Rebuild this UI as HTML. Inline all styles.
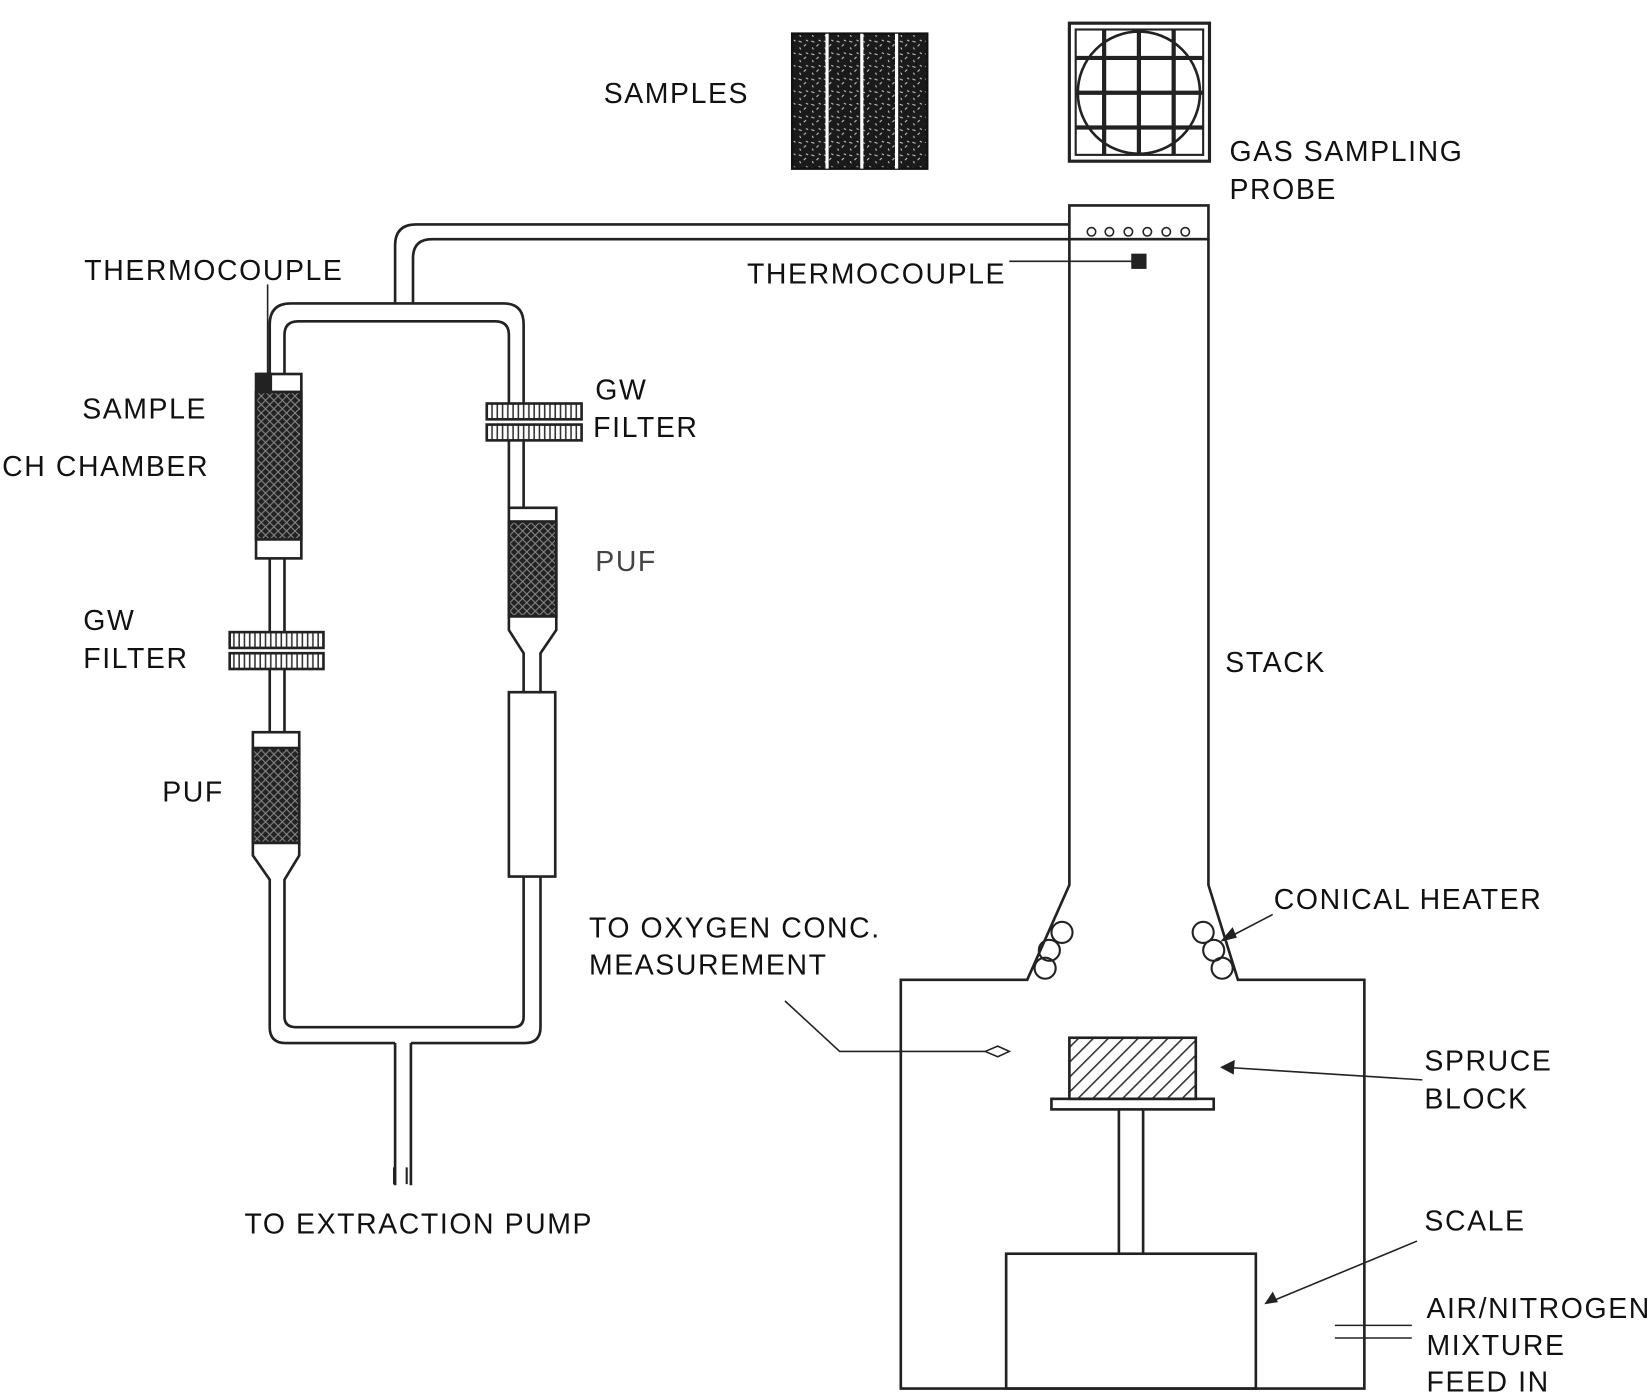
<!DOCTYPE html>
<html><head><meta charset="utf-8"><style>
html,body{margin:0;padding:0;background:#fff;}
svg{display:block;}
text{font-family:"Liberation Sans",sans-serif;font-size:27px;fill:#111;letter-spacing:1.5px;}
</style></head><body>
<svg width="1652" height="1397" viewBox="0 0 1568 1326" xmlns="http://www.w3.org/2000/svg">
<defs>
<pattern id="cross" width="8" height="8" patternUnits="userSpaceOnUse">
<rect width="8" height="8" fill="#222"/>
<path d="M0 0L8 8M8 0L0 8" stroke="#888" stroke-width="1"/>
</pattern>
<pattern id="hatch" width="10" height="10" patternUnits="userSpaceOnUse" patternTransform="rotate(45)">
<rect width="10" height="10" fill="#fff"/>
<line x1="0" y1="0" x2="0" y2="10" stroke="#333" stroke-width="3"/>
</pattern>
<pattern id="spk" width="12" height="12" patternUnits="userSpaceOnUse">
<rect width="12" height="12" fill="#1a1a1a"/>
<path d="M2 3l3 1M7 8l2-2M3 9l1 2M9 2l2 1" stroke="#ccc" stroke-width="1"/>
</pattern>
<pattern id="ribs" width="5" height="10" patternUnits="userSpaceOnUse">
<rect width="5" height="10" fill="#fff"/>
<line x1="2" y1="0" x2="2" y2="10" stroke="#333" stroke-width="1.5"/>
</pattern>
</defs>
<g fill="none" stroke="#222" stroke-width="2.5">
<rect x="752" y="32" width="128" height="128" fill="url(#spk)" stroke="#111"/>
<line x1="785" y1="32" x2="785" y2="160" stroke="#fff" stroke-width="3"/>
<line x1="818" y1="32" x2="818" y2="160" stroke="#fff" stroke-width="3"/>
<line x1="851" y1="32" x2="851" y2="160" stroke="#fff" stroke-width="3"/>
<rect x="1015" y="22" width="133" height="131" stroke-width="3"/>
<rect x="1021" y="28" width="121" height="119" stroke-width="2"/>
<circle cx="1081" cy="88" r="58"/>
<path d="M1048 28V147M1081 28V147M1114 28V147M1021 55H1142M1021 88H1142M1021 121H1142" stroke-width="4"/>
<path d="M1015 213H395Q375 213 375 233V288"/>
<path d="M1015 227H410Q392 227 392 245V288"/>
<rect x="1015" y="195" width="132" height="32"/>
<g stroke-width="1.5"><circle cx="1036" cy="220" r="4"/><circle cx="1053" cy="220" r="4"/><circle cx="1071" cy="220" r="4"/><circle cx="1089" cy="220" r="4"/><circle cx="1107" cy="220" r="4"/><circle cx="1125" cy="220" r="4"/></g>
<rect x="1075" y="242" width="12" height="12" fill="#222"/>
<line x1="958" y1="248" x2="1075" y2="248" stroke-width="1.5"/>
<path d="M1015 227V840L975 930H855V1318H1295V930H1175L1147 840V227"/>
<g stroke-width="2"><circle cx="1008" cy="885" r="10"/><circle cx="996" cy="902" r="10"/><circle cx="992" cy="919" r="10"/><circle cx="1142" cy="885" r="10"/><circle cx="1152" cy="902" r="10"/><circle cx="1160" cy="919" r="10"/></g>
<path d="M256 355V308Q256 288 276 288H478Q497 288 497 308V385"/>
<path d="M270 355V318Q270 305 283 305H470Q483 305 483 318V385"/>
<path d="M256 530V600M270 530V600M256 635V695M270 635V695"/>
<path d="M256 850V975Q256 990 271 990H375M390 990H498Q513 990 513 975V832M497 832V965Q497 975 487 975H281Q270 975 270 965V850"/>
<path d="M375 990V1125M390 990V1125"/>
<path d="M374 1108V1124M386 1108V1124" stroke-width="2"/>
<rect x="243" y="355" width="43" height="175"/>
<rect x="243" y="372" width="43" height="140" fill="url(#cross)"/>
<rect x="245" y="355" width="12" height="17" fill="#222"/>
<line x1="254" y1="270" x2="254" y2="356" stroke-width="1.5"/>
<rect x="218" y="600" width="89" height="15" fill="url(#ribs)"/>
<rect x="218" y="620" width="89" height="15" fill="url(#ribs)"/>
<rect x="240" y="695" width="44" height="105"/>
<rect x="240" y="710" width="44" height="90" fill="url(#cross)"/>
<path d="M240 800V812L256 835V850M284 800V812L270 835V850"/>
<path d="M497 418V482M483 418V482"/>
<rect x="462" y="383" width="90" height="15" fill="url(#ribs)"/>
<rect x="462" y="403" width="90" height="15" fill="url(#ribs)"/>
<rect x="483" y="482" width="45" height="103"/>
<rect x="483" y="495" width="45" height="90" fill="url(#cross)"/>
<path d="M483 585V598L497 620V657M528 585V598L513 620V657"/>
<rect x="483" y="657" width="44" height="175"/>
<rect x="1015" y="985" width="120" height="58" fill="url(#hatch)"/>
<rect x="998" y="1043" width="154" height="10"/>
<path d="M1062 1053V1190M1085 1053V1190"/>
<rect x="955" y="1190" width="237" height="128"/>
<g stroke-width="1.5">
<path d="M745 950L797 998H935"/>
<path d="M935 998L947 993L958 998L947 1003Z"/>
<path d="M1267 1258H1340M1267 1270H1340"/>
<path d="M1208 868L1162 892"/>
<path d="M1350 1025L1162 1013"/>
<path d="M1345 1178L1205 1236"/>
</g>
</g>
<g fill="#222">
<path d="M1158 894L1170 880L1174 890Z"/>
<path d="M1158 1013L1172 1006L1171 1020Z"/>
<path d="M1200 1238L1208 1226L1213 1236Z"/>
</g>
<text x="573" y="98">SAMPLES</text>
<text x="1167" y="153">GAS SAMPLING</text>
<text x="1167" y="189">PROBE</text>
<text x="80" y="266">THERMOCOUPLE</text>
<text x="709" y="269">THERMOCOUPLE</text>
<text x="78" y="397">SAMPLE</text>
<text x="2" y="452">CH CHAMBER</text>
<text x="565" y="379">GW</text>
<text x="563" y="415">FILTER</text>
<text x="565" y="542" style="fill:#444">PUF</text>
<text x="79" y="598">GW</text>
<text x="79" y="634">FILTER</text>
<text x="154" y="761">PUF</text>
<text x="1163" y="638">STACK</text>
<text x="1209" y="863">CONICAL HEATER</text>
<text x="559" y="890">TO OXYGEN CONC.</text>
<text x="559" y="925">MEASUREMENT</text>
<text x="1352" y="1016">SPRUCE</text>
<text x="1352" y="1052">BLOCK</text>
<text x="1352" y="1168">SCALE</text>
<text x="1354" y="1251">AIR/NITROGEN</text>
<text x="1354" y="1286">MIXTURE</text>
<text x="1354" y="1321">FEED IN</text>
<text x="232" y="1171">TO EXTRACTION PUMP</text>
</svg>
</body></html>
